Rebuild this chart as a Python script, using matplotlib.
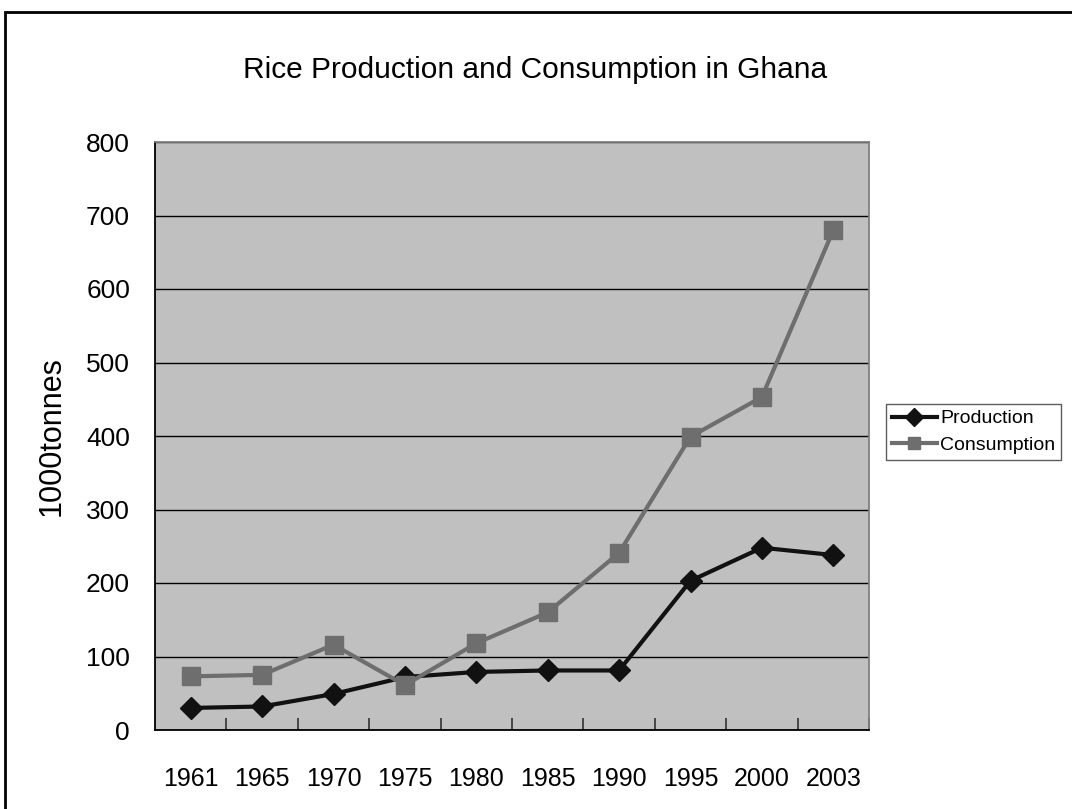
import matplotlib
matplotlib.use("Agg")
import matplotlib.pyplot as plt
from matplotlib.patches import Rectangle
import numpy as np

plt.rcParams['font.family'] = ['Liberation Sans Narrow', 'Liberation Sans', 'DejaVu Sans']

# rice data for Ghana, in 1000 tonnes
years = ['1961', '1965', '1970', '1975', '1980', '1985', '1990', '1995', '2000', '2003']
production = [30, 32, 49, 72, 79, 81, 81, 203, 248, 238]
consumption = [73, 75, 116, 61, 118, 160, 241, 399, 453, 680]

W, H = 1072, 809
fig = plt.figure(figsize=(W / 100, H / 100), dpi=100)
ax = fig.add_axes([155 / W, 1 - 730 / H, (869 - 155) / W, (730 - 142) / H])

x = np.arange(len(years))
ax.set_facecolor('#C0C0C0')
ax.plot(x, production, color='#111111', lw=3, marker='D', ms=11,
        mfc='#111111', mec='#111111', label='Production', zorder=3)
ax.plot(x, consumption, color='#6E6E6E', lw=3, marker='s', ms=13,
        mfc='#6E6E6E', mec='#6E6E6E', label='Consumption', zorder=3)

ax.set_xlim(-0.5, len(years) - 0.5)
ax.set_ylim(0, 800)
ax.set_yticks(range(0, 801, 100))
ax.yaxis.grid(True, color='black', lw=1)
ax.set_axisbelow(True)

# category labels centred, tick marks on the category boundaries
ax.set_xticks(x)
ax.set_xticklabels(years)
ax.set_xticks(np.arange(0.5, len(years), 1), minor=True)
ax.tick_params(axis='x', which='major', length=0, pad=27, labelsize=18)
ax.tick_params(axis='x', which='minor', direction='in', length=9, width=1.2, color='#333333')
ax.tick_params(axis='y', direction='in', length=0, pad=18, labelsize=19)

for s in ('left', 'bottom'):
    ax.spines[s].set_color('black')
    ax.spines[s].set_linewidth(1.3)
for s in ('top', 'right'):
    ax.spines[s].set_color('#808080')
    ax.spines[s].set_linewidth(1.3)

ax.set_ylabel('1000tonnes', fontsize=22, labelpad=14)

fig.text(535 / W, 1 - 70 / H, 'Rice Production and Consumption in Ghana',
         ha='center', va='center', fontsize=21.5)

leg = fig.legend(loc='upper left', bbox_to_anchor=(886 / W, 1 - 404 / H),
                 fontsize=14, frameon=True, fancybox=False, edgecolor='#333333',
                 borderpad=0.3, handlelength=2.3, handletextpad=0.2,
                 labelspacing=0.45, borderaxespad=0)
leg.get_frame().set_linewidth(1)
for h in leg.legend_handles:
    h.set_markersize(9)

# chart border
fig.patches.append(Rectangle((5 / W, -0.1), 1.2, 1.1 - 12 / H, transform=fig.transFigure,
                             fill=False, edgecolor='black', lw=2, clip_on=False))

fig.savefig('out.png', dpi=100)
